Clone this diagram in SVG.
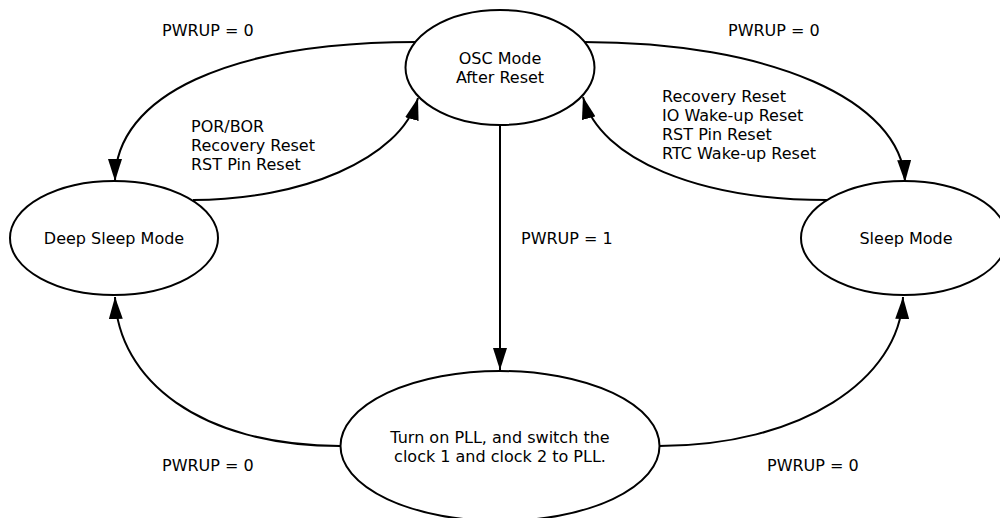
<svg xmlns="http://www.w3.org/2000/svg" width="1000" height="518" viewBox="0 0 1000 518">
  <style>
    .state { fill: #ffffff; stroke: #000000; stroke-width: 2; }
    .edge { fill: none; stroke: #000000; stroke-width: 2; marker-end: url(#arrow); }
    text { font-family: "DejaVu Sans", Verdana, sans-serif; font-size: 16px; fill: #000000; }
    .mid { text-anchor: middle; }
  </style>
  <defs>
    <marker id="arrow" markerUnits="userSpaceOnUse" markerWidth="22" markerHeight="14" refX="22" refY="7" orient="auto">
      <path d="M0,0 L22,7 L0,14 z" fill="#000000"/>
    </marker>
  </defs>
  <rect width="1000" height="518" fill="#ffffff"/>

  <!-- transitions -->
  <g id="connectors">
    <path class="edge" d="M417,42 C230,42 115,95 115,181"/>
    <path class="edge" d="M193,200 C300,200 400,160 418,98"/>
    <path class="edge" d="M583,42 C770,42 902,100 905,182"/>
    <path class="edge" d="M827,200 C700,200 600,160 583,97"/>
    <path class="edge" d="M500,125 L500,370"/>
    <path class="edge" d="M340,446 C200,446 118,380 115,297"/>
    <path class="edge" d="M659,446 C800,446 900,380 903,297"/>
  </g>

  <!-- transition labels -->
  <g id="labels">
    <text x="162" y="36">PWRUP = 0</text>
    <text x="728" y="36">PWRUP = 0</text>
    <text x="191" y="132">POR/BOR</text>
    <text x="191" y="151">Recovery Reset</text>
    <text x="191" y="170">RST Pin Reset</text>
    <text x="662" y="102">Recovery Reset</text>
    <text x="662" y="121">IO Wake-up Reset</text>
    <text x="662" y="140">RST Pin Reset</text>
    <text x="662" y="159">RTC Wake-up Reset</text>
    <text x="521" y="244">PWRUP = 1</text>
    <text x="162" y="471">PWRUP = 0</text>
    <text x="767" y="471">PWRUP = 0</text>
  </g>

  <g id="osc">
    <ellipse class="state" cx="500" cy="67.5" rx="94.5" ry="57.5"/>
    <text class="mid" x="500" y="64">OSC Mode</text>
    <text class="mid" x="500" y="83">After Reset</text>
  </g>

  <g id="deep-sleep">
    <ellipse class="state" cx="114" cy="238" rx="104" ry="57"/>
    <text class="mid" x="114" y="244">Deep Sleep Mode</text>
  </g>

  <g id="sleep">
    <ellipse class="state" cx="904" cy="238" rx="103" ry="57"/>
    <text class="mid" x="906" y="244">Sleep Mode</text>
  </g>

  <g id="pll">
    <ellipse class="state" cx="500" cy="446" rx="159.5" ry="75"/>
    <text class="mid" x="500" y="443">Turn on PLL, and switch the</text>
    <text class="mid" x="500" y="462">clock 1 and clock 2 to PLL.</text>
  </g>
</svg>
